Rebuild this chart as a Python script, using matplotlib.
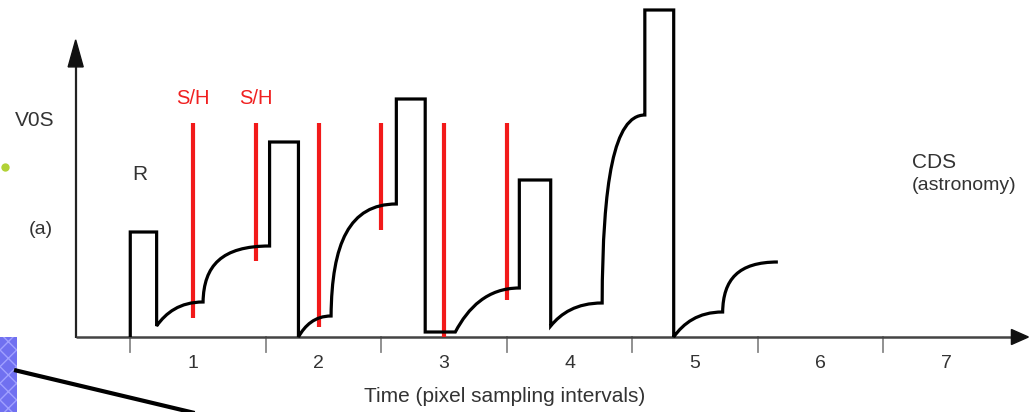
import matplotlib
matplotlib.use("Agg")
import matplotlib.pyplot as plt
from matplotlib.path import Path
from matplotlib.patches import PathPatch, Rectangle, FancyArrow
import numpy as np

plt.rcParams['font.family'] = ['Liberation Sans', 'DejaVu Sans']

# ---------------- data ----------------
# waveform: (kind, t, V) ; kind = 'M' move, 'L' straight, 'soft'/'sharp' charging curve
wave = [
    ('M', 0.50, 0.00),
    ('L', 0.50, 1.05),
    ('L', 0.71, 1.05),
    ('L', 0.71, 0.11),
    ('soft', 1.08, 0.35),
    ('sharp', 1.61, 0.91),
    ('L', 1.61, 1.95),
    ('L', 1.84, 1.95),
    ('L', 1.84, 0.00),
    ('soft', 2.10, 0.21),
    ('sharp', 2.62, 1.33),
    ('L', 2.62, 2.38),
    ('L', 2.85, 2.38),
    ('L', 2.85, 0.05),
    ('L', 3.09, 0.05),
    ('soft', 3.60, 0.49),
    ('L', 3.60, 1.57),
    ('L', 3.85, 1.57),
    ('L', 3.85, 0.11),
    ('soft', 4.26, 0.34),
    ('sharp', 4.60, 2.22),
    ('L', 4.60, 3.27),
    ('L', 4.83, 3.27),
    ('L', 4.83, 0.00),
    ('soft', 5.22, 0.25),
    ('sharp', 5.66, 0.75),
]

sh_times = [1.0, 1.5, 2.0, 2.5, 3.0, 3.5]
sh_top = [2.14, 2.14, 2.14, 2.14, 2.14, 2.14]
sh_bottom = [0.19, 0.76, 0.10, 1.07, 0.00, 0.37]

tick_positions = [0.50, 1.58, 2.50, 3.50, 4.50, 5.50, 6.50]
tick_label_pos = [1, 2, 3, 4, 5, 6, 7]
tick_labels = ['1', '2', '3', '4', '5', '6', '7']

xlabel_text = 'Time (pixel sampling intervals)'

# ---------------- figure ----------------
fig = plt.figure(figsize=(10.30, 4.12), dpi=100)
ax = fig.add_axes([0, 0, 1, 1])
ax.set_xlim(-0.538, 7.669)
ax.set_ylim(-0.75, 3.37)
ax.axis('off')

dark = '#333333'

# axes lines
y_axis_t = 0.065
ax.plot([y_axis_t, y_axis_t], [-0.005, 2.72], color='#222222', lw=1.6, solid_capstyle='butt', zorder=2)
ax.add_patch(FancyArrow(y_axis_t, 2.70, 0, 0.001, width=0, head_width=0.12, head_length=0.27,
                        length_includes_head=False, color='#111111', zorder=3))
ax.plot([y_axis_t, 7.53], [0, 0], color='#444444', lw=1.8, solid_capstyle='butt', zorder=2)
ax.add_patch(FancyArrow(7.52, 0, 0.001, 0, width=0, head_width=0.15, head_length=0.135,
                        length_includes_head=False, color='#111111', zorder=3))

# ticks
for tp in tick_positions:
    ax.plot([tp, tp], [0, -0.15], color='#888888', lw=1.3, zorder=1)
for lp, lab in zip(tick_label_pos, tick_labels):
    ax.text(lp, -0.26, lab, ha='center', va='center', fontsize=14, color=dark)
ax.text(3.486, -0.60, xlabel_text, ha='center', va='center', fontsize=15, color=dark)

# waveform path
verts, codes = [], []
prev = None
for kind, t, v in wave:
    if kind == 'M':
        verts.append((t, v)); codes.append(Path.MOVETO)
    elif kind == 'L':
        verts.append((t, v)); codes.append(Path.LINETO)
    else:
        x0, y0 = prev
        dx, dy = t - x0, v - y0
        if kind == 'soft':
            p1 = (x0 + 0.20 * dx, y0 + 0.55 * dy)
            p2 = (x0 + 0.50 * dx, v)
        else:
            p1 = (x0 + 0.01 * dx, y0 + 0.65 * dy)
            p2 = (x0 + 0.28 * dx, v)
        verts += [p1, p2, (t, v)]
        codes += [Path.CURVE4] * 3
    prev = (t, v)
ax.add_patch(PathPatch(Path(verts, codes), facecolor='none', edgecolor='black',
                       lw=2.3, joinstyle='miter', capstyle='butt', zorder=4))

# S/H sampling lines
ax.vlines(sh_times, sh_bottom, sh_top, colors='#f21a1a', lw=3.0, zorder=3)
ax.text(1.0, 2.38, 'S/H', ha='center', va='center', fontsize=14.5, color='#f02020')
ax.text(1.5, 2.38, 'S/H', ha='center', va='center', fontsize=14.5, color='#f02020')

# annotations
ax.text(-0.418, 2.17, 'V0S', ha='left', va='center', fontsize=15, color=dark)
ax.text(-0.307, 1.07, '(a)', ha='left', va='center', fontsize=14, color=dark)
ax.text(0.578, 1.62, 'R', ha='center', va='center', fontsize=15, color=dark)
ax.text(6.729, 1.75, 'CDS', ha='left', va='center', fontsize=15, color=dark)
ax.text(6.729, 1.51, '(astronomy)', ha='left', va='center', fontsize=14, color=dark)

# slide artifacts
ax.plot([-0.498], [1.70], 'o', color='#b2d236', markersize=6, markeredgewidth=0, zorder=2)
ax.add_patch(Rectangle((-0.538, -0.75), 0.136, 0.75, facecolor='#7070f0',
                       edgecolor='#a0a0ff', hatch='xx', lw=0, zorder=2))
ax.plot([-0.426, 1.08], [-0.33, -0.78], color='black', lw=3.0, zorder=5, solid_capstyle='butt')

fig.savefig('out.png', dpi=100)
